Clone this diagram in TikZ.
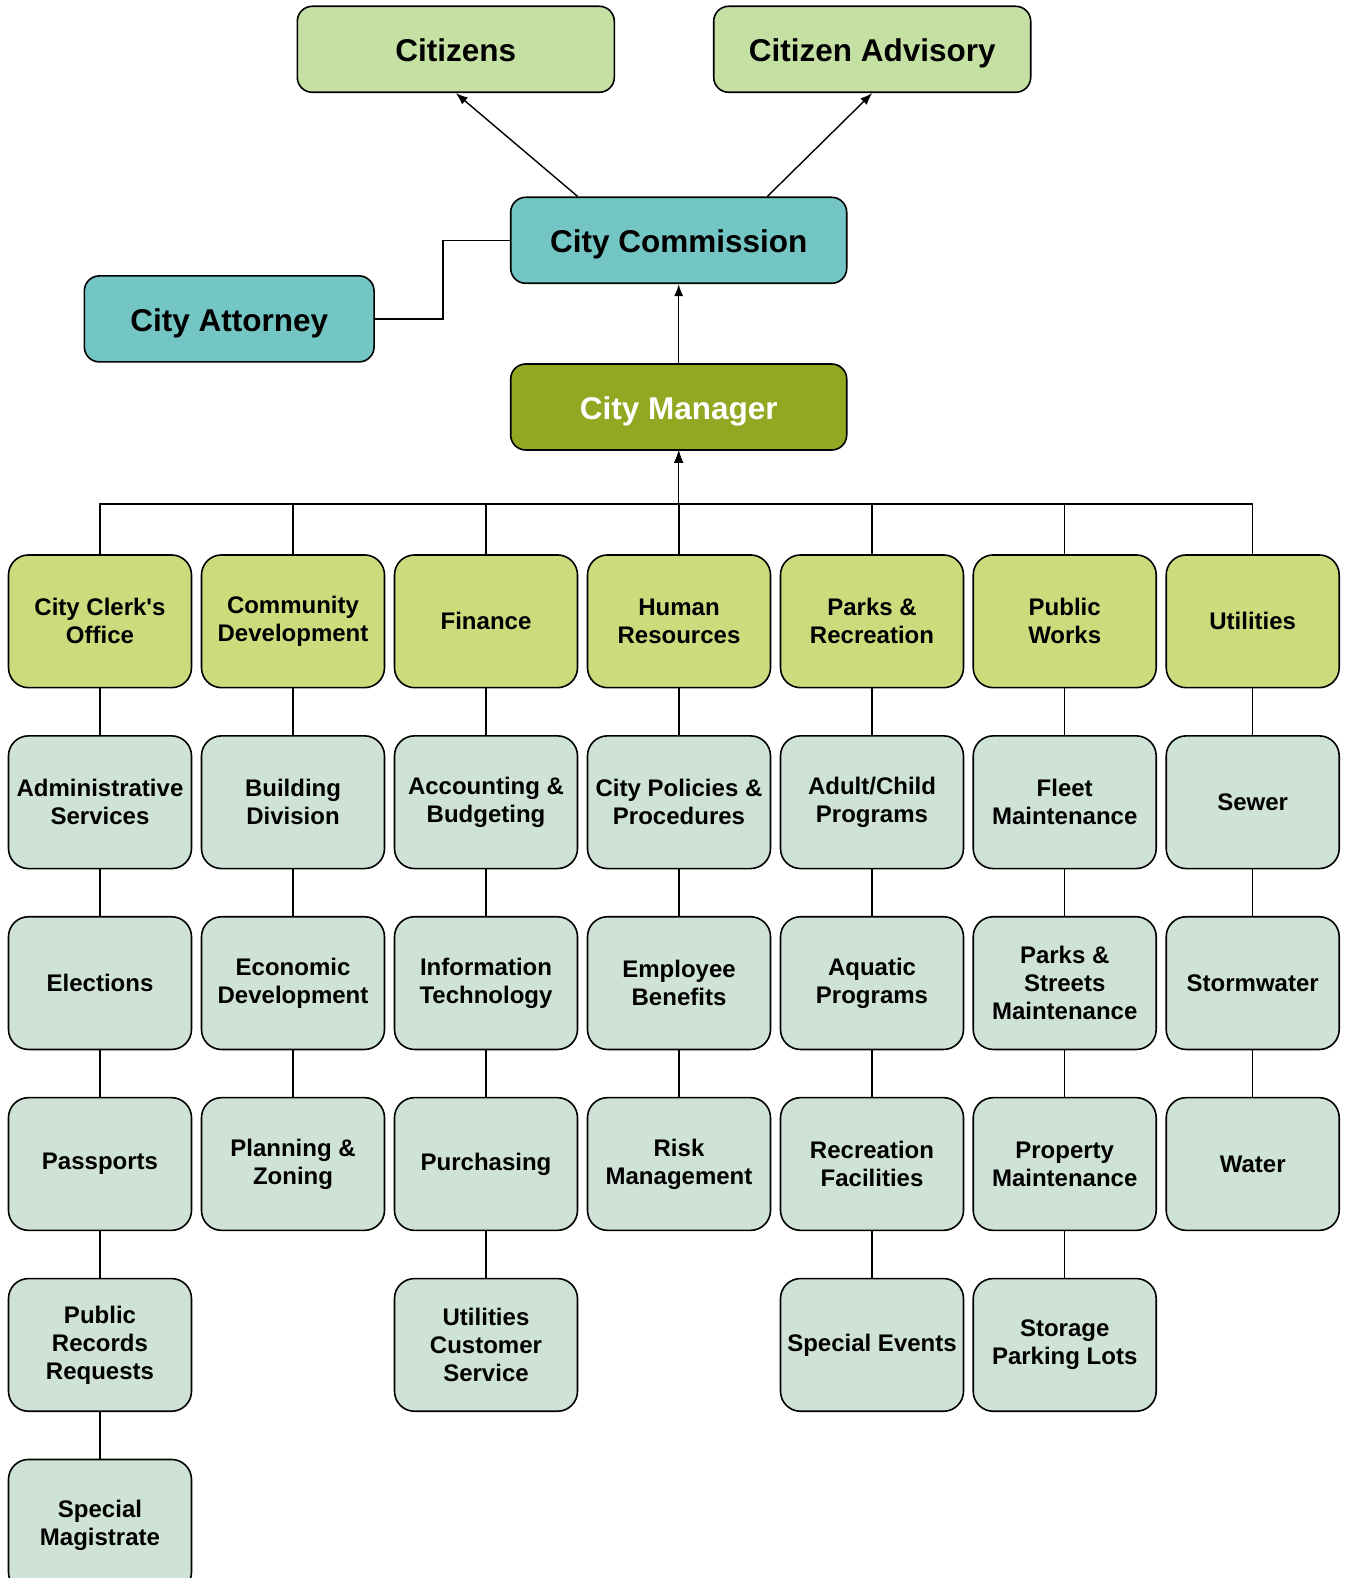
\documentclass[tikz,border=0pt]{standalone}
\usepackage{fontspec}
\setmainfont{Liberation Sans}
\usetikzlibrary{positioning}
\usetikzlibrary{arrows.meta}
\definecolor{topgreen}{HTML}{C5E0A3}
\definecolor{teal}{HTML}{73C6C4}
\definecolor{olive}{HTML}{93A822}
\definecolor{deptgreen}{HTML}{CCDB7C}
\definecolor{unitgrey}{HTML}{CFE2D6}
\tikzset{
	box/.style = {
		align=center,
		inner sep=0pt,
		text centered,
		font=\bfseries\fontsize{24}{28}\selectfont,
		rectangle,
		draw=black,
		line width=1.6pt
	},
	node_top/.style = {
		box,
		rounded corners=15pt,
		font=\bfseries\fontsize{31.5}{36}\selectfont,
		text height=25.4pt,
		text depth=0pt,
		minimum height=86pt
	},
	node_cit/.style = {
		node_top,
		fill=topgreen,
		minimum width=317pt
	},
	node_com/.style = {
		node_top,
		fill=teal,
		minimum width=336pt
	},
	node_mgr/.style = {
		node_top,
		fill=olive,
		text=white,
		minimum width=336pt
	},
	node_dept/.style = {
		box,
		rounded corners=20pt,
		fill=deptgreen,
		minimum width=183pt,
		minimum height=132.7pt
	},
	node_unit/.style = {
		node_dept,
		fill=unitgrey
	},
	link/.style = {
		line width=1.4pt
	},
}

\begin{document}
\begin{tikzpicture}[x=1pt, y=1pt, >={Latex[length=12pt,width=9pt]}]
\useasboundingbox (0,0) rectangle (1345,-1578);

% top of the chart
\node [node_cit] (cit) at (455.8,-49.3) {Citizens};
\node [node_cit] (adv) at (872.2,-49.3) {Citizen Advisory};
\node [node_com] (com) at (678.7,-240.3) {City Commission};
\node [node_com, minimum width=289.7pt] (att) at (229.2,-318.9) {City Attorney};
\node [node_mgr] (mgr) at (678.7,-407) {City Manager};
\coordinate (bus) at (678.7,-504);

\draw [link,->] ([xshift=-101pt]com.north) -- (cit.south);
\draw [link,->] ([xshift=88.6pt]com.north) -- (adv.south);
\draw [link] (att.east) -- ++(68.3,0) |- (com.west);
\draw [link,->] (mgr.north) -- (com.south);

% departments
\node [node_dept] (clerk) at (100,-621.3) {City Clerk\textquotesingle s\\Office};
\node [node_dept] (comdev) at (293,-621.3) {Community\\Development};
\node [node_dept] (fin) at (486,-621.3) {Finance};
\node [node_dept] (hr) at (679,-621.3) {Human\\Resources};
\node [node_dept] (parks) at (872,-621.3) {Parks \&\\Recreation};
\node [node_dept] (works) at (1064.7,-621.3) {Public\\Works};
\node [node_dept, minimum width=173pt] (util) at (1252.7,-621.3) {Utilities};

\foreach \d in {clerk,comdev,fin,hr,parks,works,util}
	\draw [link,->] (\d.north) |- (bus) -- (mgr.south);

% City Clerk's Office
\node [node_unit, below=46.6pt of clerk] (admin) {Administrative\\Services};
\node [node_unit, below=46.6pt of admin] (elect) {Elections};
\node [node_unit, below=46.6pt of elect] (pass) {Passports};
\node [node_unit, below=46.6pt of pass] (records) {Public\\Records\\Requests};
\node [node_unit, below=46.6pt of records] (magis) {Special\\Magistrate};

% Community Development
\node [node_unit, below=46.6pt of comdev] (build) {Building\\Division};
\node [node_unit, below=46.6pt of build] (econ) {Economic\\Development};
\node [node_unit, below=46.6pt of econ] (plan) {Planning \&\\Zoning};

% Finance
\node [node_unit, below=46.6pt of fin] (acct) {Accounting \&\\Budgeting};
\node [node_unit, below=46.6pt of acct] (it) {Information\\Technology};
\node [node_unit, below=46.6pt of it] (purch) {Purchasing};
\node [node_unit, below=46.6pt of purch] (custserv) {Utilities\\Customer\\Service};

% Human Resources
\node [node_unit, below=46.6pt of hr] (policy) {City Policies \&\\Procedures};
\node [node_unit, below=46.6pt of policy] (benef) {Employee\\Benefits};
\node [node_unit, below=46.6pt of benef] (risk) {Risk\\Management};

% Parks & Recreation
\node [node_unit, below=46.6pt of parks] (adult) {Adult/Child\\Programs};
\node [node_unit, below=46.6pt of adult] (aqua) {Aquatic\\Programs};
\node [node_unit, below=46.6pt of aqua] (recfac) {Recreation\\Facilities};
\node [node_unit, below=46.6pt of recfac] (events) {Special Events};

% Public Works
\node [node_unit, below=46.6pt of works] (fleet) {Fleet\\Maintenance};
\node [node_unit, below=46.6pt of fleet] (streets) {Parks \&\\Streets\\Maintenance};
\node [node_unit, below=46.6pt of streets] (prop) {Property\\Maintenance};
\node [node_unit, below=46.6pt of prop] (storage) {Storage\\Parking Lots};

% Utilities
\node [node_unit, minimum width=173pt, below=46.6pt of util] (sewer) {Sewer};
\node [node_unit, minimum width=173pt, below=46.6pt of sewer] (storm) {Stormwater};
\node [node_unit, minimum width=173pt, below=46.6pt of storm] (water) {Water};

\foreach \a/\b in {clerk/admin, admin/elect, elect/pass, pass/records, records/magis,
	comdev/build, build/econ, econ/plan,
	fin/acct, acct/it, it/purch, purch/custserv,
	hr/policy, policy/benef, benef/risk,
	parks/adult, adult/aqua, aqua/recfac, recfac/events,
	works/fleet, fleet/streets, streets/prop, prop/storage,
	util/sewer, sewer/storm, storm/water}
	\draw [link] (\a.south) -- (\b.north);
\end{tikzpicture}
\end{document}
